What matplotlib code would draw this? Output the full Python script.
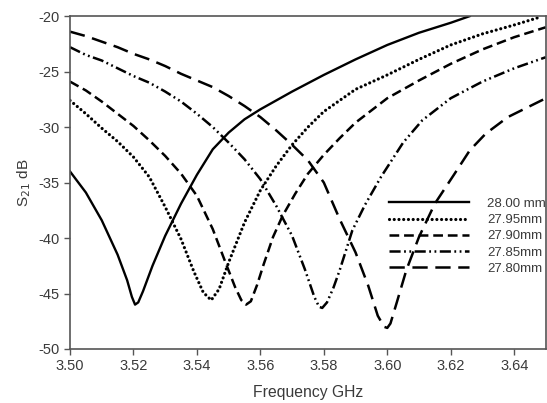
import numpy as np
import matplotlib
matplotlib.use("Agg")
import matplotlib.pyplot as plt

plt.rcParams['font.family'] = ['Liberation Sans', 'DejaVu Sans']
plt.rcParams['lines.scale_dashes'] = False
plt.rcParams['axes.unicode_minus'] = False

# values (frequency GHz, S21 dB)
f_2800 = [3.500, 3.505, 3.510, 3.515, 3.518, 3.5195, 3.5205, 3.5215, 3.523, 3.526, 3.530, 3.535,
          3.540, 3.545, 3.550, 3.555, 3.560, 3.565, 3.570, 3.580, 3.590, 3.600, 3.610, 3.620,
          3.626]
s_2800 = [-34.0, -35.9, -38.4, -41.5, -43.8, -45.3, -46.0, -45.8, -44.8, -42.5, -39.8, -36.9,
          -34.3, -32.0, -30.5, -29.3, -28.4, -27.6, -26.8, -25.3, -23.9, -22.6, -21.5, -20.6,
          -20.0]

f_2795 = [3.500, 3.505, 3.510, 3.515, 3.520, 3.525, 3.530, 3.535, 3.539, 3.542, 3.5445, 3.547,
          3.550, 3.555, 3.560, 3.565, 3.570, 3.575, 3.580, 3.590, 3.600, 3.610, 3.620, 3.630,
          3.640, 3.648]
s_2795 = [-27.6, -28.8, -30.1, -31.3, -32.7, -34.5, -37.2, -40.1, -43.0, -44.9, -45.6, -44.6,
          -42.2, -38.6, -35.7, -33.5, -31.6, -30.0, -28.6, -26.6, -25.3, -23.9, -22.6, -21.6,
          -20.8, -20.1]

f_2790 = [3.500, 3.505, 3.510, 3.515, 3.520, 3.525, 3.530, 3.535, 3.540, 3.545, 3.549, 3.552,
          3.554, 3.5555, 3.557, 3.559, 3.561, 3.564, 3.567, 3.571, 3.575, 3.580, 3.585, 3.590,
          3.600, 3.610, 3.620, 3.630, 3.640, 3.650]
s_2790 = [-25.9, -26.7, -27.7, -28.8, -29.9, -31.2, -32.6, -34.2, -36.2, -39.2, -42.2, -44.4,
          -45.6, -46.0, -45.7, -44.2, -42.4, -39.9, -38.0, -36.0, -34.2, -32.5, -31.0, -29.6,
          -27.4, -25.8, -24.3, -23.0, -21.9, -21.0]

f_2785 = [3.500, 3.505, 3.510, 3.515, 3.520, 3.525, 3.530, 3.535, 3.540, 3.545, 3.550, 3.555,
          3.560, 3.565, 3.570, 3.574, 3.577, 3.5785, 3.5795, 3.581, 3.583, 3.585, 3.589, 3.593,
          3.598, 3.605, 3.611, 3.620, 3.630, 3.640, 3.650]
s_2785 = [-22.8, -23.5, -24.0, -24.7, -25.4, -26.0, -26.8, -27.7, -28.8, -30.0, -31.4, -32.9,
          -34.7, -37.1, -39.8, -42.8, -45.3, -46.2, -46.3, -45.8, -44.5, -42.9, -39.3, -37.0,
          -34.5, -31.4, -29.4, -27.4, -25.9, -24.7, -23.7]

f_2780 = [3.500, 3.505, 3.510, 3.515, 3.520, 3.525, 3.530, 3.535, 3.540, 3.545, 3.550, 3.555,
          3.560, 3.565, 3.570, 3.575, 3.580, 3.585, 3.590, 3.594, 3.597, 3.599, 3.600, 3.601,
          3.603, 3.606, 3.610, 3.615, 3.621, 3.626, 3.631, 3.638, 3.650]
s_2780 = [-21.4, -21.8, -22.3, -22.8, -23.4, -23.9, -24.5, -25.2, -25.8, -26.4, -27.2, -28.1,
          -29.1, -30.3, -31.6, -33.0, -35.0, -38.3, -41.3, -44.3, -47.0, -48.0, -48.1, -47.7,
          -45.8, -42.9, -39.9, -36.9, -34.3, -32.1, -30.6, -29.1, -27.4]

labels = ["28.00 mm", "27.95mm", "27.90mm", "27.85mm", "27.80mm"]
x_ticks = [3.50, 3.52, 3.54, 3.56, 3.58, 3.60, 3.62, 3.64]
y_ticks = [-50, -45, -40, -35, -30, -25, -20]

txt = "#3a3a3a"
fig = plt.figure(figsize=(5.47, 4.03), dpi=100)
ax = fig.add_axes([0.128, 0.134, 0.870, 0.826])

ax.plot(f_2800, s_2800, color="black", lw=1.7, ls="-", label=labels[0])
ax.plot(f_2795, s_2795, color="black", lw=2.3, ls=(0, (0.01, 3.4)),
        dash_capstyle="round", label=labels[1])
ax.plot(f_2790, s_2790, color="black", lw=1.8, ls=(0, (7, 3.5)), label=labels[2])
ax.plot(f_2785, s_2785, color="black", lw=1.8,
        ls=(0, (8, 2.5, 1.3, 2.5, 1.3, 2.5)), label=labels[3])
ax.plot(f_2780, s_2780, color="black", lw=1.8, ls=(0, (11, 5.5)), label=labels[4])

ax.set_xlim(3.50, 3.65)
ax.set_ylim(-50, -20)
ax.set_xticks(x_ticks)
ax.set_xticklabels(["%.2f" % v for v in x_ticks])
ax.set_yticks(y_ticks)
ax.tick_params(direction="out", length=4, width=1, colors="#555555",
               labelcolor=txt, labelsize=10.5)
for sp in ax.spines.values():
    sp.set_color("#555555")
    sp.set_linewidth(1.2)

ax.set_xlabel("Frequency GHz", fontsize=11.3, color=txt, labelpad=8)
ax.set_ylabel("S$_{21}$ dB", fontsize=11, color=txt, labelpad=4)

leg = ax.legend(loc="upper left", bbox_to_anchor=(0.66, 0.47), frameon=False,
                fontsize=9.5, handlelength=6.0, handletextpad=1.4,
                labelspacing=0.3, borderaxespad=0)
for t in leg.get_texts():
    t.set_color(txt)

fig.savefig("out.png", dpi=100)
